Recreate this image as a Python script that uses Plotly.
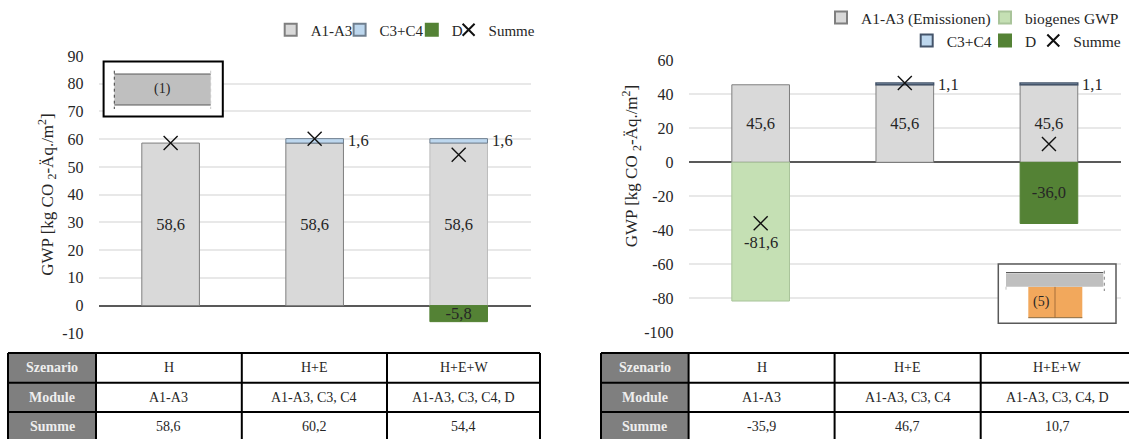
import plotly.graph_objects as go

W, H = 1129, 439
FONT = "Liberation Serif"
INK = "#262626"

scenarios = ["H", "H+E", "H+E+W"]

left_a1a3 = [58.6, 58.6, 58.6]
left_c3c4 = [None, 1.6, 1.6]
left_d = [None, None, -5.8]
left_sum = [58.6, 60.2, 54.4]
left_ticks = [-10, 0, 10, 20, 30, 40, 50, 60, 70, 80, 90]

right_a1a3 = [45.6, 45.6, 45.6]
right_bio = [-81.6, None, None]
right_c3c4 = [None, 1.1, 1.1]
right_d = [None, None, -36.0]
right_sum = [-35.9, 46.7, 10.7]
right_ticks = [-100, -80, -60, -40, -20, 0, 20, 40, 60]

row_heads = ["Szenario", "Module", "Summe"]
left_modules = ["A1-A3", "A1-A3, C3, C4", "A1-A3, C3, C4, D"]
left_totals = ["58,6", "60,2", "54,4"]
right_modules = ["A1-A3", "A1-A3, C3, C4", "A1-A3, C3, C4, D"]
right_totals = ["-35,9", "46,7", "10,7"]

YTITLE = "GWP [kg CO <sub>2</sub>-Äq./m<sup>2</sup>]"
C_A1 = "#d9d9d9"
C_C3 = "#bdd7ee"
C_D = "#548235"
C_BIO = "#c5e0b4"
EDGE = "#7f7f7f"


def px(x):
    return x / W


def py(y):
    return 1 - y / H


def fmt(v):
    return f"{v:.1f}".replace(".", ",")


fig = go.Figure()


def bar(name, values, color, xa, ya, legend, edge=EDGE, edge_w=1, labels=False):
    cats = [c for c, v in zip(scenarios, values) if v is not None]
    vals = [v for v in values if v is not None]
    fig.add_trace(go.Bar(
        x=cats, y=vals, name=name, width=0.4, xaxis=xa, yaxis=ya, legend=legend,
        marker=dict(color=color, line=dict(color=edge, width=edge_w)),
        text=[fmt(v) for v in vals] if labels else None,
        textposition="inside" if labels else "none",
        insidetextanchor="middle",
        textangle=0,
        constraintext="none",
        textfont=dict(family=FONT, size=16.5, color=INK),
        hoverinfo="x+y",
    ))


def cross(values, xa, ya, legend):
    fig.add_trace(go.Scatter(
        x=scenarios, y=values, name="Summe", mode="markers", xaxis=xa, yaxis=ya, legend=legend,
        cliponaxis=False,
        marker=dict(symbol="x-thin", size=14, line=dict(color="#111111", width=1.4)),
    ))


bar("A1-A3", left_a1a3, C_A1, "x", "y", "legend", edge=[EDGE, EDGE, "#bdbdbd"], labels=True)
bar("C3+C4", left_c3c4, C_C3, "x", "y", "legend2", edge="#6f7f8f")
bar("D", left_d, C_D, "x", "y", "legend3", edge=C_D, labels=True)
cross(left_sum, "x", "y", "legend4")

bar("A1-A3 (Emissionen)", right_a1a3, C_A1, "x2", "y2", "legend5", labels=True)
bar("biogenes GWP", right_bio, C_BIO, "x2", "y2", "legend6", edge="#a9c49a")
bar("C3+C4", right_c3c4, C_C3, "x2", "y2", "legend7", edge="#44546a", edge_w=1.5)
bar("D", right_d, C_D, "x2", "y2", "legend8", edge=C_D, labels=True)
cross(right_sum, "x2", "y2", "legend9")

annotations = []
shapes = []

# value labels next to the thin C3+C4 segments
for vals, base, xr, yr in [(left_c3c4, left_a1a3, "x", "y"), (right_c3c4, right_a1a3, "x2", "y2")]:
    for cat, v, b in zip(scenarios, vals, base):
        if v is not None:
            annotations.append(dict(
                x=cat, y=b + v, xref=xr, yref=yr, text=fmt(v), showarrow=False,
                xanchor="left", yanchor="middle", xshift=31, yshift=-2,
                font=dict(family=FONT, size=16.5, color=INK),
            ))

# the biogenic label sits below the Summe marker in the reference
annotations.append(dict(
    x=scenarios[0], y=right_bio[0] / 2, xref="x2", yref="y2", text=fmt(right_bio[0]), showarrow=False,
    xanchor="center", yanchor="middle", yshift=-11, font=dict(family=FONT, size=16.5, color=INK),
))

# axis titles
for tx, ty in [(46.7, 195), (631.7, 166.5)]:
    annotations.append(dict(
        x=px(tx), y=py(ty), xref="paper", yref="paper", text=YTITLE, showarrow=False, textangle=-90,
        xanchor="center", yanchor="middle", font=dict(family=FONT, size=17, color=INK),
    ))


def legend_box(text_x, text_y, size):
    return dict(
        x=px(text_x - 40), y=py(text_y), xref="paper", yref="paper",
        xanchor="left", yanchor="middle", bgcolor="rgba(0,0,0,0)", borderwidth=0,
        orientation="h", itemsizing="constant",
        font=dict(family=FONT, size=size, color=INK),
    )


def rect(x0, y0, x1, y1, fill=None, line=None, width=1):
    shapes.append(dict(
        type="rect", xref="paper", yref="paper", layer="above",
        x0=px(x0), x1=px(x1), y0=py(y0), y1=py(y1),
        fillcolor=fill or "rgba(0,0,0,0)",
        line=dict(color=line or "rgba(0,0,0,0)", width=width if line else 0),
    ))


def seg(x0, y0, x1, y1, color="#000000", width=2, dash="solid"):
    shapes.append(dict(
        type="line", xref="paper", yref="paper", layer="above",
        x0=px(x0), x1=px(x1), y0=py(y0), y1=py(y1),
        line=dict(color=color, width=width, dash=dash),
    ))


def label(x, y, text, size=14, color=INK):
    annotations.append(dict(
        x=px(x), y=py(y), xref="paper", yref="paper", text=text, showarrow=False,
        xanchor="center", yanchor="middle", font=dict(family=FONT, size=size, color=color),
    ))


def table(edges, modules, totals):
    rows = [353, 382.7, 412, 441]
    rect(edges[0], rows[0], edges[1], rows[3], fill="#7f7f7f")
    for y in rows[:3]:
        seg(edges[0], y, min(edges[-1], W), y)
    for x in edges:
        if x <= W:
            seg(x, rows[0], x, rows[3])
    content = [scenarios, modules, totals]
    for r in range(3):
        cy = (rows[r] + rows[r + 1]) / 2
        label((edges[0] + edges[1]) / 2, cy, f"<b>{row_heads[r]}</b>", color="#eeeeee")
        for c in range(3):
            label((edges[c + 1] + edges[c + 2]) / 2, cy, content[r][c])


table([8, 96, 241.8, 387, 540], left_modules, left_totals)
table([601, 688.6, 834.6, 980.7, 1134], right_modules, right_totals)

# inset (1)
rect(103.6, 61.5, 222.8, 116.5, fill="#ffffff", line="#000000", width=2)
rect(114.3, 74, 210.7, 105, fill="#bfbfbf")
seg(114.3, 74, 210.7, 74, color="#595959", width=1)
seg(114.3, 105, 210.7, 105, color="#595959", width=1)
seg(114.3, 70.7, 114.3, 109, color="#404040", width=1, dash="dot")
seg(210.7, 70.7, 210.7, 109, color="#c8c8c8", width=1, dash="dot")
label(162.5, 89, "(1)")

# inset (5)
rect(998.3, 264, 1116, 323.3, fill="#ffffff", line="#595959", width=1.5)
rect(1028.3, 286.7, 1082.3, 317.7, fill="#f2a85c")
seg(1055, 286.7, 1055, 317.7, color="#a66f3a", width=1)
seg(1028.3, 317.7, 1082.3, 317.7, color="#8a6a40", width=1)
rect(1006, 273.3, 1103.3, 286.7, fill="#bfbfbf")
seg(1006, 272.5, 1103.3, 272.5, color="#595959", width=1)
seg(1104.3, 270.7, 1104.3, 291, color="#7f7f7f", width=1, dash="dot")
seg(1006, 286.7, 1006, 291, color="#bfbfbf", width=1, dash="dot")
label(1041.7, 301.7, "(5)")

axis_common = dict(
    showgrid=True, gridcolor="#e8e8e8", gridwidth=1.5,
    zeroline=True, zerolinecolor="#595959", zerolinewidth=2,
    tickfont=dict(family=FONT, size=16, color=INK), ticks="", showline=False,
    automargin=False, ticklabelstandoff=14,
)

fig.update_layout(
    width=W, height=H, autosize=False,
    margin=dict(l=0, r=0, t=0, b=0),
    paper_bgcolor="#ffffff", plot_bgcolor="#ffffff",
    barmode="relative", bargap=0.6, showlegend=True,
    xaxis=dict(domain=[px(98.6), px(530.7)], showticklabels=False, showgrid=False, zeroline=False,
               ticks="", categoryorder="array", categoryarray=scenarios, range=[-0.5, 2.5]),
    xaxis2=dict(domain=[px(688.6), px(1121)], showticklabels=False, showgrid=False, zeroline=False,
                ticks="", categoryorder="array", categoryarray=scenarios, anchor="y2", range=[-0.5, 2.5]),
    yaxis=dict(domain=[py(333.3), py(56)], range=[-10, 90], tickvals=left_ticks,
               ticktext=[str(t) for t in left_ticks], **axis_common),
    yaxis2=dict(domain=[py(332.3), py(60.3)], range=[-100, 60], tickvals=right_ticks, anchor="x2",
                ticktext=[str(t) for t in right_ticks], **axis_common),
    legend=legend_box(310.7, 30, 15),
    legend2=legend_box(379.6, 30, 15),
    legend3=legend_box(451.8, 30, 15),
    legend4=legend_box(488.6, 30, 15),
    legend5=legend_box(861, 18, 15.5),
    legend6=legend_box(1025, 18, 15.5),
    legend7=legend_box(946.7, 41, 15.5),
    legend8=legend_box(1025, 41, 15.5),
    legend9=legend_box(1073.3, 41, 15.5),
    annotations=annotations,
    shapes=shapes,
    hovermode="closest",
)

fig.write_html("out.html", config={"displayModeBar": False},
               post_script="document.body.style.margin='0';document.body.style.overflow='hidden';")
